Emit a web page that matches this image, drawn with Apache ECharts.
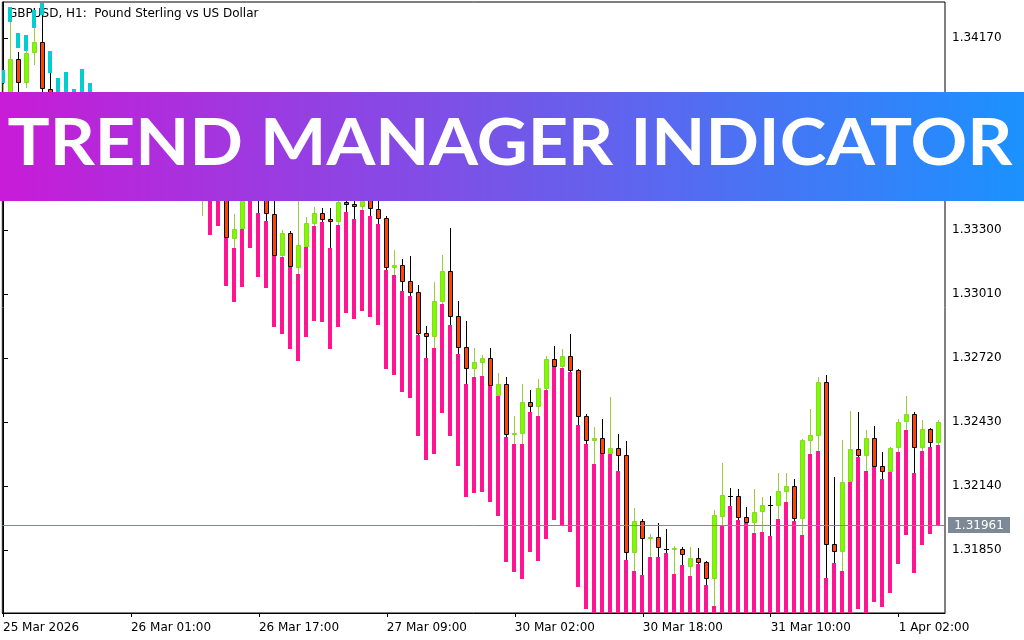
<!DOCTYPE html>
<html><head><meta charset="utf-8">
<script src="https://cdn.jsdelivr.net/npm/echarts@6/dist/echarts.min.js"></script>
<style>html,body{margin:0;padding:0;background:#fff}#c{width:1024px;height:640px}</style>
</head><body><div id="c"></div>
<script>
// x tick positions (bar index) and their labels
const tickIndex = [0, 16, 32, 48, 64, 80, 96, 112];
const tickLabels = ['25 Mar 2026', '26 Mar 01:00', '26 Mar 17:00', '27 Mar 09:00', '30 Mar 02:00', '30 Mar 18:00', '31 Mar 10:00', '1 Apr 02:00'];
// price axis ticks
const priceTicks = [1.31850, 1.32140, 1.32430, 1.32720, 1.33010, 1.33300, 1.33590, 1.33880, 1.34170];
const currentPrice = 1.31961;

const open = [
1.33753,1.33844,1.34075,1.33966,1.34102,1.34152,1.33939,1.33730,1.33807,1.33753,
1.33835,1.33776,1.33708,1.33662,1.33699,1.33626,1.33594,1.33640,1.33572,1.33617,
1.33563,1.33526,1.33572,1.33535,1.33581,1.33445,1.33549,1.33499,1.33504,1.33259,
1.33305,1.33549,1.33526,1.33472,1.33373,1.33182,1.33286,1.33128,1.33223,1.33327,
1.33377,1.33350,1.33336,1.33427,1.33418,1.33404,1.33440,1.33395,1.33354,1.33128,
1.33141,1.33069,1.33019,1.32833,1.32815,1.32974,1.33114,1.32910,1.32770,1.32670,
1.32697,1.32720,1.32548,1.32602,1.32371,1.32376,1.32521,1.32498,1.32579,1.32715,
1.32679,1.32729,1.32665,1.32457,1.32344,1.32357,1.32285,1.32312,1.32280,1.31836,
1.31981,1.31900,1.31909,1.31855,1.31850,1.31855,1.31773,1.31814,1.31796,1.31719,
1.31999,1.32095,1.32095,1.31999,1.31972,1.32022,1.32054,1.32049,1.32113,1.32140,
1.31990,1.32344,1.32367,1.32611,1.31877,1.31841,1.32158,1.32308,1.32276,1.32357,
1.32231,1.32203,1.32312,1.32430,1.32466,1.32312,1.32398,1.32335];

const close = [
1.33866,1.34075,1.33966,1.34102,1.34152,1.33939,1.33798,1.33807,1.33753,1.33835,
1.33776,1.33708,1.33662,1.33699,1.33626,1.33594,1.33640,1.33572,1.33617,1.33563,
1.33526,1.33572,1.33535,1.33581,1.33544,1.33504,1.33481,1.33535,1.33264,1.33305,
1.33481,1.33481,1.33445,1.33373,1.33182,1.33286,1.33132,1.33232,1.33332,1.33377,
1.33345,1.33336,1.33427,1.33413,1.33404,1.33440,1.33395,1.33350,1.33128,1.33141,
1.33064,1.33015,1.32829,1.32815,1.32978,1.33114,1.32905,1.32765,1.32670,1.32702,
1.32720,1.32593,1.32602,1.32371,1.32380,1.32521,1.32498,1.32584,1.32715,1.32679,
1.32729,1.32661,1.32453,1.32344,1.32357,1.32285,1.32312,1.32276,1.31836,1.31981,
1.31900,1.31909,1.31859,1.31855,1.31857,1.31827,1.31814,1.31791,1.31719,1.32009,
1.32099,1.32095,1.31995,1.31972,1.32022,1.32054,1.32054,1.32117,1.32140,1.31990,
1.32348,1.32371,1.32611,1.31873,1.31841,1.32158,1.32308,1.32276,1.32357,1.32226,
1.32203,1.32312,1.32430,1.32466,1.32312,1.32398,1.32335,1.32430];

const low = [
1.33730,1.33798,1.33911,1.33944,1.34047,1.33911,1.33776,1.33708,1.33717,1.33735,
1.33753,1.33680,1.33640,1.33635,1.33608,1.33572,1.33581,1.33549,1.33554,1.33535,
1.33508,1.33513,1.33517,1.33526,1.33526,1.33364,1.33472,1.33490,1.33264,1.33218,
1.33305,1.33458,1.33377,1.33341,1.33182,1.33177,1.33132,1.33101,1.33223,1.33318,
1.33336,1.33218,1.33323,1.33382,1.33350,1.33391,1.33364,1.33327,1.33119,1.33096,
1.33024,1.33001,1.32824,1.32720,1.32765,1.32965,1.32869,1.32738,1.32602,1.32634,
1.32638,1.32593,1.32548,1.32362,1.32330,1.32330,1.32475,1.32457,1.32575,1.32679,
1.32674,1.32656,1.32417,1.32330,1.32240,1.32285,1.32285,1.32208,1.31805,1.31755,
1.31737,1.31818,1.31818,1.31836,1.31741,1.31782,1.31732,1.31787,1.31691,1.31596,
1.31963,1.32049,1.31986,1.31972,1.31927,1.31931,1.31913,1.31990,1.32067,1.31981,
1.31918,1.32285,1.32299,1.31723,1.31791,1.31755,1.32158,1.32271,1.32208,1.32226,
1.32172,1.32203,1.32294,1.32394,1.32199,1.32299,1.32317,1.32326];

const high = [
1.33962,1.34242,1.34107,1.34116,1.34215,1.34274,1.34011,1.33907,1.33889,1.33866,
1.33889,1.33853,1.33744,1.33717,1.33726,1.33662,1.33662,1.33653,1.33635,1.33640,
1.33594,1.33590,1.33603,1.33617,1.33608,1.33549,1.33572,1.33563,1.33535,1.33373,
1.33504,1.33572,1.33563,1.33504,1.33458,1.33300,1.33296,1.33445,1.33359,1.33404,
1.33400,1.33400,1.33445,1.33449,1.33445,1.33458,1.33454,1.33436,1.33364,1.33209,
1.33168,1.33182,1.33051,1.32865,1.33064,1.33186,1.33309,1.32978,1.32887,1.32765,
1.32733,1.32765,1.32652,1.32634,1.32457,1.32602,1.32575,1.32625,1.32729,1.32774,
1.32761,1.32829,1.32670,1.32466,1.32407,1.32443,1.32543,1.32375,1.32344,1.32040,
1.31990,1.31922,1.31972,1.31945,1.31868,1.31864,1.31864,1.31859,1.31800,1.32031,
1.32244,1.32131,1.32126,1.32045,1.32126,1.32090,1.32095,1.32199,1.32199,1.32172,
1.32353,1.32489,1.32634,1.32643,1.32181,1.32348,1.32480,1.32475,1.32394,1.32412,
1.32294,1.32317,1.32443,1.32548,1.32475,1.32439,1.32403,1.32439];

// Trend Manager histogram: upper / lower edge of each bar, direction (1 up = cyan, -1 down = pink)
const trendUpper = [
1.34025,1.34310,1.34192,1.34183,1.34297,1.34328,1.34111,1.33989,1.34016,1.33939,
1.34029,1.33966,1.33640,1.33635,1.33608,1.33572,1.33581,1.33549,1.33554,1.33535,
1.33508,1.33513,1.33517,1.33526,1.33526,null,1.33472,1.33490,1.33264,1.33218,
1.33305,1.33458,1.33377,1.33341,1.33182,1.33177,1.33132,1.33101,1.33223,1.33318,
1.33336,1.33218,1.33323,1.33382,1.33350,1.33391,1.33364,1.33327,1.33119,1.33096,
1.33024,1.33001,1.32824,1.32720,1.32765,1.32965,1.32869,1.32738,1.32602,1.32634,
1.32638,1.32593,1.32548,1.32362,1.32330,1.32330,1.32475,1.32457,1.32575,1.32679,
1.32674,1.32656,1.32417,1.32330,1.32240,1.32285,1.32285,1.32208,1.31805,1.31755,
1.31737,1.31818,1.31818,1.31836,1.31741,1.31782,1.31732,1.31787,1.31691,1.31596,
1.31963,1.32049,1.31986,1.31972,1.31927,1.31931,1.31913,1.31990,1.32067,1.31981,
1.31918,1.32285,1.32299,1.31723,1.31791,1.31755,1.32158,1.32271,1.32208,1.32226,
1.32172,1.32203,1.32294,1.32394,1.32199,1.32299,1.32317,1.32326];

const trendLower = [
1.33966,1.34242,1.34125,1.34111,1.34215,1.34274,1.34011,1.33907,1.33889,1.33866,
1.33889,1.33853,1.33481,1.33458,1.33445,1.33440,1.33449,1.33440,1.33440,1.33440,
1.33440,1.33440,1.33440,1.33440,1.33440,null,1.33277,1.33318,1.33046,1.32974,
1.33041,1.33218,1.33087,1.33037,1.32860,1.32829,1.32760,1.32706,1.32815,1.32887,
1.32883,1.32760,1.32860,1.32924,1.32896,1.32933,1.32905,1.32869,1.32670,1.32642,
1.32566,1.32539,1.32367,1.32258,1.32285,1.32470,1.32367,1.32231,1.32090,1.32108,
1.32113,1.32067,1.32004,1.31796,1.31750,1.31719,1.31841,1.31800,1.31900,1.31986,
1.31963,1.31931,1.31682,1.31582,1.31551,1.31551,1.31551,1.31551,1.31551,1.31551,
1.31551,1.31551,1.31551,1.31551,1.31551,1.31551,1.31551,1.31551,1.31551,1.31551,
1.31551,1.31551,1.31551,1.31551,1.31551,1.31551,1.31551,1.31551,1.31551,1.31551,
1.31551,1.31551,1.31551,1.31551,1.31551,1.31551,1.31551,1.31582,1.31551,1.31614,
1.31592,1.31655,1.31787,1.31918,1.31746,1.31873,1.31922,1.31963];

const trendDir = [
1,1,1,1,1,1,1,1,1,1,
1,1,-1,-1,-1,-1,-1,-1,-1,-1,
-1,-1,-1,-1,-1,0,-1,-1,-1,-1,
-1,-1,-1,-1,-1,-1,-1,-1,-1,-1,
-1,-1,-1,-1,-1,-1,-1,-1,-1,-1,
-1,-1,-1,-1,-1,-1,-1,-1,-1,-1,
-1,-1,-1,-1,-1,-1,-1,-1,-1,-1,
-1,-1,-1,-1,-1,-1,-1,-1,-1,-1,
-1,-1,-1,-1,-1,-1,-1,-1,-1,-1,
-1,-1,-1,-1,-1,-1,-1,-1,-1,-1,
-1,-1,-1,-1,-1,-1,-1,-1,-1,-1,
-1,-1,-1,-1,-1,-1,-1,-1];

const candleData = open.map((o, i) => [i, o, close[i], low[i], high[i]]);
const trendData = trendDir.map((d, i) => [i, trendUpper[i] == null ? 0 : trendUpper[i], trendLower[i] == null ? 0 : trendLower[i], d]);

function renderTrend(params, api) {
  const i = api.value(0), up = api.value(1), lo = api.value(2), dir = api.value(3);
  if (!dir) return null;
  const p1 = api.coord([i, up]), p2 = api.coord([i, lo]);
  const cx = Math.floor(p1[0]);
  const y1 = Math.round(p1[1]), y2 = Math.round(p2[1]);
  return { type: 'rect', shape: { x: cx - 2, y: y1, width: 4, height: y2 - y1 },
    style: { fill: dir > 0 ? '#00ced1' : '#ff1493' } };
}

function renderCandle(params, api) {
  const i = api.value(0), o = api.value(1), c = api.value(2), l = api.value(3), h = api.value(4);
  const po = api.coord([i, o]), pc = api.coord([i, c]), pl = api.coord([i, l]), ph = api.coord([i, h]);
  const cx = Math.floor(po[0]);
  const yo = Math.round(po[1]), yc = Math.round(pc[1]), yl = Math.round(pl[1]), yh = Math.round(ph[1]);
  const bull = c > o;
  const wick = bull ? '#9acd32' : '#000000';
  const children = [{ type: 'line', shape: { x1: cx + 0.5, y1: yh, x2: cx + 0.5, y2: yl }, style: { stroke: wick, lineWidth: 1 } }];
  const top = Math.min(yo, yc), bot = Math.max(yo, yc);
  if (bot - top < 2) {
    children.push({ type: 'line', shape: { x1: cx - 2, y1: top + 0.5, x2: cx + 3, y2: top + 0.5 }, style: { stroke: bull ? '#8fd81e' : '#000', lineWidth: 1 } });
  } else {
    children.push({ type: 'rect', shape: { x: cx - 1.5, y: top + 0.5, width: 4, height: bot - top - 1 },
      style: { fill: bull ? '#7cfc00' : '#ff4500', stroke: bull ? '#8ad81c' : '#000', lineWidth: 1 } });
  }
  return { type: 'group', children };
}

function renderPrice(params, api) {
  const p = api.coord([api.value(0), api.value(1)]);
  const cs = params.coordSys;
  const y = Math.round(p[1]) + 0.5;
  const right = cs.x + cs.width;
  return { type: 'group', children: [
    { type: 'line', shape: { x1: cs.x, y1: y, x2: right, y2: y }, style: { stroke: '#808890', lineWidth: 1 } },
    { type: 'rect', shape: { x: right + 3, y: y - 8.5, width: 62, height: 16 }, style: { fill: '#7d8996' } },
    { type: 'text', x: right + 34, y: y + 0.5, style: { text: api.value(1).toFixed(5), fill: '#ffffff', font: '12px "DejaVu Sans"',
      textAlign: 'center', textVerticalAlign: 'middle', align: 'center', verticalAlign: 'middle' } }
  ] };
}

const chart = echarts.init(document.getElementById('c'), null, { renderer: 'canvas' });

const bannerText = 'TREND MANAGER INDICATOR';
const bannerFont = 'bold 65px Lato';
const mctx = document.createElement('canvas').getContext('2d');
mctx.font = bannerFont;
const bw = mctx.measureText(bannerText).width || 1000;
const bscale = 1005 / bw;

chart.setOption({
  animation: false,
  backgroundColor: '#ffffff',
  grid: { left: 2, right: 79, top: 2, bottom: 27, show: true, borderColor: '#000', borderWidth: 1, containLabel: false },
  xAxis: {
    type: 'value', min: -0.083, max: 117.79,
    axisLine: { show: true, lineStyle: { color: '#000', width: 1 } },
    splitLine: { show: false },
    axisTick: { show: true, customValues: tickIndex, length: 4, lineStyle: { color: '#000' } },
    axisLabel: { customValues: tickIndex, formatter: v => tickLabels[tickIndex.indexOf(Math.round(v))] || '',
      align: 'left', color: '#000', fontFamily: 'DejaVu Sans', fontSize: 12, margin: 9 }
  },
  yAxis: {
    type: 'value', position: 'right', min: 1.315645, max: 1.343329,
    axisLine: { show: true, lineStyle: { color: '#000', width: 1 } },
    splitLine: { show: false },
    axisTick: { show: true, customValues: priceTicks, length: 5, lineStyle: { color: '#000' } },
    axisLabel: { customValues: priceTicks, formatter: v => v.toFixed(5), color: '#000', fontFamily: 'DejaVu Sans', fontSize: 12, margin: 7,
      padding: [4, 0, 0, 0] }
  },
  graphic: [
    { type: 'text', x: 8, y: 8, z: 0, silent: true,
      style: { text: 'GBPUSD, H1:  Pound Sterling vs US Dollar', fill: '#000', font: '12px "DejaVu Sans"' } },
    { type: 'rect', zlevel: 2, z: 100, silent: true, shape: { x: 0, y: 92, width: 1024, height: 109 },
      style: { fill: new echarts.graphic.LinearGradient(0, 0, 1, 0, [{ offset: 0, color: '#c81bd7' }, { offset: 0.5, color: '#7357e9' }, { offset: 1, color: '#1b92ff' }]) } },
    { type: 'text', zlevel: 2, z: 101, silent: true, x: 510, y: 144, scaleX: bscale, scaleY: 1,
      style: { text: bannerText, fill: '#ffffff', font: bannerFont, textAlign: 'center', textVerticalAlign: 'middle', align: 'center', verticalAlign: 'middle' } }
  ],
  series: [
    { type: 'custom', name: 'trend', renderItem: renderTrend, data: trendData, clip: true, silent: true, z: 2,
      encode: { x: 0, y: [1, 2] } },
    { type: 'custom', name: 'candles', renderItem: renderCandle, data: candleData, clip: true, silent: true, z: 3,
      encode: { x: 0, y: [1, 2, 3, 4] } },
    { type: 'custom', name: 'price', renderItem: renderPrice, data: [[0, currentPrice]], clip: false, silent: true, z: 4,
      encode: { x: 0, y: 1 } }
  ]
});
</script>
</body></html>
